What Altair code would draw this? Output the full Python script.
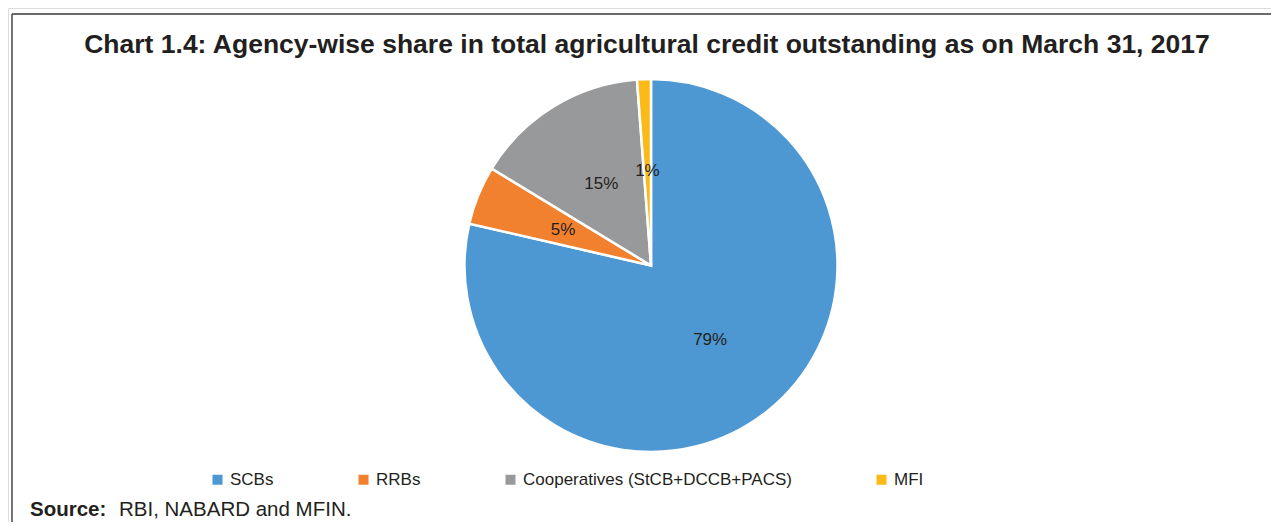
import altair as alt
import pandas as pd

TITLE = "Chart 1.4: Agency-wise share in total agricultural credit outstanding as on March 31, 2017"
categories = ["SCBs", "RRBs", "Cooperatives (StCB+DCCB+PACS)", "MFI"]
shares = [78.6, 5.1, 15.1, 1.2]
labels = ["79%", "5%", "15%", "1%"]
colors = ["#4D97D3", "#F1802F", "#98999A", "#FBBA17"]
source_bold = "Source:"
source_rest = "RBI, NABARD and MFIN."

FONT = "Liberation Sans"
TXT = "#231F20"

df = pd.DataFrame({
    "agency": categories,
    "share": shares,
    "label": labels,
    "order": list(range(len(categories))),
})

W, H = 1263, 514
CX, CY, R = 643, 257.5, 186.5

base = alt.Chart(df)

color = alt.Color(
    "agency:N",
    scale=alt.Scale(domain=categories, range=colors),
    legend=alt.Legend(
        title=None,
        orient="none",
        direction="horizontal",
        legendX=201,
        legendY=463,
        symbolType="square",
        symbolSize=100,
        symbolStrokeWidth=0,
        labelFont=FONT,
        labelFontSize=17,
        labelColor=TXT,
        labelLimit=0,
        labelOffset=4,
        columnPadding=81,
    ),
    sort=categories,
)

pie = base.mark_arc(stroke="white", strokeWidth=2.5, outerRadius=R).encode(
    theta=alt.Theta("share:Q", stack=True),
    color=color,
    order=alt.Order("order:Q"),
    x=alt.value(CX),
    y=alt.value(CY),
)

pct = base.mark_text(radius=95, font=FONT, fontSize=17, color=TXT).encode(
    theta=alt.Theta("share:Q", stack=True),
    order=alt.Order("order:Q"),
    text="label:N",
    x=alt.value(CX),
    y=alt.value(CY),
)

one = alt.Data(values=[{"t": TITLE, "s1": source_bold, "s2": source_rest}])

title = alt.Chart(one).mark_text(
    font=FONT, fontSize=26.5, fontWeight="bold", color=TXT, align="center", baseline="alphabetic"
).encode(text="t:N", x=alt.value(639), y=alt.value(45))

src1 = alt.Chart(one).mark_text(
    font=FONT, fontSize=20.5, fontWeight="bold", color=TXT, align="left", baseline="alphabetic"
).encode(text="s1:N", x=alt.value(22), y=alt.value(508))

src2 = alt.Chart(one).mark_text(
    font=FONT, fontSize=20.5, color=TXT, align="left", baseline="alphabetic"
).encode(text="s2:N", x=alt.value(111), y=alt.value(508))

top_rule = alt.Chart(one).mark_rule(color="#3a3a3a", strokeWidth=1.4).encode(
    x=alt.value(4), x2=alt.value(W), y=alt.value(6)
)
left_rule = alt.Chart(one).mark_rule(color="#3a3a3a", strokeWidth=1.4).encode(
    x=alt.value(4), y=alt.value(6), y2=alt.value(H)
)

chart = alt.layer(top_rule, left_rule, title, pie, pct, src1, src2).properties(
    width=W, height=H, padding=0, autosize=alt.AutoSizeParams(type="none")
).configure_view(stroke=None).configure(background="white")

chart.save("out.html", embed_options={"renderer": "svg", "actions": False})
